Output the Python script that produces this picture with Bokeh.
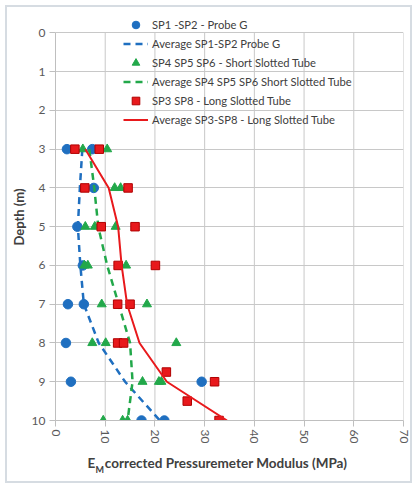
import math
from bokeh.plotting import figure
from bokeh.models import (Range1d, Legend, LegendItem, FixedTicker, LinearAxis, Title)
from bokeh.embed import file_html
from bokeh.resources import INLINE

# ---- data ----
sp12_x = [2.3, 7.4, 7.7, 4.4, 5.5, 2.5, 5.7, 2.1, 3.1, 29.4, 17.3, 21.9]
sp12_d = [3, 3, 4, 5, 6, 7, 7, 8, 9, 9, 10, 10]
avg12_x = [5.4, 4.9, 4.5, 5.0, 5.7, 8.7, 14.0, 21.0]
avg12_d = [3, 4, 5, 6, 7, 8, 9, 10]

sp456_x = [5.5, 10.4, 11.9, 13.1, 6.0, 7.9, 12.1, 5.8, 6.5, 14.2, 9.3, 18.4,
           7.4, 10.1, 24.3, 17.5, 20.8, 21.3, 9.6, 13.5, 14.5]
sp456_d = [3, 3, 4, 4, 5, 5, 5, 6, 6, 6, 7, 7, 8, 8, 8, 9, 9, 9, 10, 10, 10]
avg456_x = [6.8, 7.8, 8.6, 10.4, 12.7, 15.0, 15.5, 14.5]
avg456_d = [3, 4, 5, 6, 7, 8, 9, 10]

sp38_x = [3.9, 8.8, 5.9, 14.6, 9.2, 16.0, 12.6, 20.1, 12.5, 15.0, 12.5, 13.7,
          22.3, 32.0, 26.5, 32.9]
sp38_d = [3, 3, 4, 4, 5, 5, 6, 6, 7, 7, 8, 8, 8.75, 9, 9.5, 10]
avg38_x = [6.0, 10.7, 12.6, 13.3, 14.4, 16.9, 22.4, 34.5]
avg38_d = [3, 4, 5, 6, 7, 8, 9, 10]

x_ticks = [0, 10, 20, 30, 40, 50, 60, 70]
y_ticks = [0, 1, 2, 3, 4, 5, 6, 7, 8, 9, 10]

labels = ["SP1 -SP2 - Probe G", "Average SP1-SP2 Probe G",
          "SP4 SP5 SP6 - Short Slotted Tube", "Average SP4 SP5 SP6 Short Slotted Tube",
          "SP3 SP8 - Long Slotted Tube", "Average SP3-SP8 - Long Slotted Tube"]
x_title_main = "corrected Pressuremeter Modulus (MPa)"
y_title = "Depth (m)"

BLUE = "#1F6FC0"
GREEN = "#22A84A"
RED = "#E8191C"
FONT = "Lato"
TXT = "#404040"
GRID = "#C8C8C8"

p = figure(frame_width=348, frame_height=407, output_backend="svg", toolbar_location=None,
           x_range=Range1d(0, 70), y_range=Range1d(10, -0.5),
           min_border_left=55, min_border_right=14, min_border_top=13, min_border_bottom=68)
p.background_fill_color = "white"
p.border_fill_color = None
p.outline_line_color = None

for ax in (p.xaxis[0], p.yaxis[0]):
    ax.axis_line_color = "#BFBFBF"
    ax.major_tick_line_color = "#BFBFBF"
    ax.minor_tick_line_color = None
    ax.major_tick_out = 6
    ax.major_tick_in = 0
    ax.major_label_text_font = FONT
    ax.major_label_text_font_size = "12px"
    ax.major_label_text_color = "#595959"

p.xaxis.ticker = FixedTicker(ticks=x_ticks)
p.yaxis.ticker = FixedTicker(ticks=y_ticks)
p.yaxis.bounds = (0, 10)
p.xaxis.major_label_orientation = -math.pi / 2
p.xaxis.major_label_standoff = 3
p.yaxis.major_label_standoff = 4
p.xaxis.axis_label = None
p.yaxis.axis_label = None

# horizontal grid (spans full x range), vertical grid drawn only from depth 0 to 10
p.ygrid.grid_line_color = GRID
p.xgrid.grid_line_color = None
p.segment(x0=x_ticks, y0=[y_ticks[0]] * len(x_ticks), x1=x_ticks, y1=[y_ticks[-1]] * len(x_ticks),
          line_color=GRID, line_width=1, level="underlay")

r1 = p.scatter(sp12_x, sp12_d, marker="circle", size=9.5, fill_color=BLUE, line_color=BLUE)
r2 = p.line(avg12_x, avg12_d, line_color=BLUE, line_width=2.5, line_dash="7 5")
r3 = p.scatter(sp456_x, sp456_d, marker="triangle", size=9, fill_color=GREEN, line_color=GREEN)
r4 = p.line(avg456_x, avg456_d, line_color=GREEN, line_width=2.5, line_dash="7 5")
r5 = p.scatter(sp38_x, sp38_d, marker="square", size=8.5, fill_color=RED, line_color="#B00000")
r6 = p.line(avg38_x, avg38_d, line_color=RED, line_width=2)

items = [LegendItem(label=l, renderers=[r]) for l, r in zip(labels, [r1, r2, r3, r4, r5, r6])]
leg = Legend(items=items, location=(68, 291), padding=0, margin=0, spacing=0,
             label_height=19, glyph_height=19, glyph_width=25, label_standoff=4,
             background_fill_alpha=0, border_line_color=None,
             label_text_font=FONT, label_text_font_size="11.2px", label_text_color=TXT)
p.add_layout(leg, "center")

# y axis title
p.add_layout(Title(text=y_title, align="center", offset=-10, text_font=FONT,
                   text_font_style="bold", text_font_size="13px", text_color=TXT,
                   standoff=4), "left")

# x axis title: "E" + subscript "M" + main text, as label-only axes
pos_E, pos_main, pos_M = 7.2, 34.3, 8.9
ax_t = LinearAxis(ticker=FixedTicker(ticks=[pos_E, pos_main]),
                  major_label_overrides={pos_E: "E", pos_main: x_title_main})
ax_m = LinearAxis(ticker=FixedTicker(ticks=[pos_M]), major_label_overrides={pos_M: "M"})
for ax, fs, so in ((ax_t, "13.5px", 8), (ax_m, "9px", -10)):
    ax.axis_line_color = None
    ax.major_tick_line_color = None
    ax.minor_tick_line_color = None
    ax.major_tick_out = 0
    ax.major_tick_in = 0
    ax.major_label_standoff = so
    ax.major_label_text_font = FONT
    ax.major_label_text_font_style = "bold"
    ax.major_label_text_font_size = fs
    ax.major_label_text_color = TXT
p.add_layout(ax_t, "below")
p.add_layout(ax_m, "below")

p.styles = {"background": "white",
            "box-shadow": "inset 0 0 0 5px white, inset 0 0 0 7px #D6DCE2"}

open("out.html", "w").write(file_html(p, INLINE))
